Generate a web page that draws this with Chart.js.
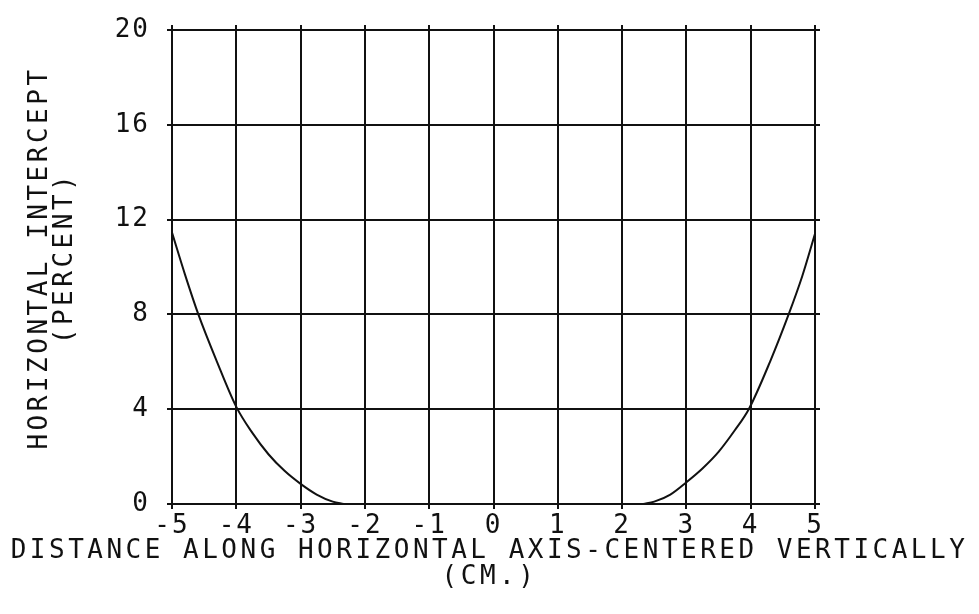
<!DOCTYPE html>
<html><head><meta charset="utf-8">
<script src="https://cdn.jsdelivr.net/npm/chart.js@4/dist/chart.umd.min.js"></script>
<style>html,body{margin:0;padding:0;background:#fff}#wrap{width:979px;height:614px}</style>
</head><body><div id="wrap"><canvas id="c" width="979" height="614"></canvas></div>
<script>
// Data
const leftX  = [-5, -4.8, -4.59, -4.3, -4, -3.75, -3.5, -3.25, -3, -2.75, -2.5, -2.33];
const leftY  = [11.45, 9.7, 8.0, 6.0, 4.1, 3.0, 2.1, 1.4, 0.85, 0.4, 0.1, 0];
const rightX = [2.33, 2.5, 2.75, 3, 3.25, 3.5, 3.75, 3.97, 4.3, 4.59, 4.8, 5];
const rightY = [0, 0.1, 0.4, 0.92, 1.5, 2.2, 3.1, 4.0, 6.0, 8.0, 9.6, 11.4];
const xRange = [-5, 5];
const yRange = [0, 20];
const xStep = 1;
const yStep = 4;
const xTitle = ['DISTANCE ALONG HORIZONTAL AXIS-CENTERED VERTICALLY', '(CM.)'];
const yTitle = ['HORIZONTAL INTERCEPT', '(PERCENT)'];

const toPts = (xs, ys) => xs.map((x, i) => ({x: x, y: ys[i]}));

const FONT = '"DejaVu Sans Mono", "Liberation Mono", monospace';
const INK = '#111';

// wrap a draw method so its text uses plotter-like letter spacing (and optional nudge)
function spaced(obj, method, spacing, dy) {
  if (!obj || obj['_sp_' + method]) return;
  obj['_sp_' + method] = true;
  const orig = obj[method].bind(obj);
  obj[method] = function () {
    const ctx = this.ctx;
    ctx.save();
    ctx.letterSpacing = spacing;
    if (dy) ctx.translate(0, dy);
    orig.apply(null, arguments);
    ctx.restore();
  };
}

const spacingPlugin = {
  id: 'spacing',
  beforeUpdate(c) { c.ctx.letterSpacing = '2px'; },
  beforeDraw(c) { c.ctx.letterSpacing = '2px'; },
  afterLayout(c) {
    spaced(c.titleBlock, 'draw', '3.5px', 0);
    spaced(c.scales.y, 'drawTitle', '3.5px', -9);
  }
};

const gridCommon = { color: INK, lineWidth: 2, tickLength: 5, tickColor: INK, tickWidth: 2 };

new Chart(document.getElementById('c'), {
  type: 'scatter',
  data: {
    datasets: [
      { data: toPts(leftX, leftY), showLine: true, borderColor: INK, borderWidth: 2, pointRadius: 0, cubicInterpolationMode: 'monotone', fill: false },
      { data: toPts(rightX, rightY), showLine: true, borderColor: INK, borderWidth: 2, pointRadius: 0, cubicInterpolationMode: 'monotone', fill: false }
    ]
  },
  options: {
    responsive: false,
    animation: false,
    devicePixelRatio: 1,
    layout: { padding: 0 },
    plugins: {
      legend: { display: false },
      tooltip: { enabled: false },
      title: {
        display: true, position: 'bottom', text: xTitle, color: INK,
        padding: { top: 0, bottom: 24 },
        font: { family: FONT, size: 26, weight: 'normal', lineHeight: 1 }
      }
    },
    scales: {
      x: {
        type: 'linear', position: 'bottom', min: xRange[0], max: xRange[1],
        afterFit(s) { s.height = 34; },
        grid: gridCommon,
        border: { color: INK, width: 2 },
        ticks: { stepSize: xStep, color: INK, padding: 4, maxRotation: 0, font: { family: FONT, size: 26, lineHeight: 1 } }
      },
      y: {
        type: 'linear', position: 'left', min: yRange[0], max: yRange[1],
        afterFit(s) { s.width = 172; },
        grid: gridCommon,
        border: { color: INK, width: 2 },
        ticks: { stepSize: yStep, color: INK, padding: 17, font: { family: FONT, size: 26, lineHeight: 1 } },
        title: { display: true, text: yTitle, color: INK, padding: { top: 28, bottom: 0 }, font: { family: FONT, size: 26, lineHeight: 0.96 } }
      },
      x2: {
        type: 'linear', position: 'top', min: xRange[0], max: xRange[1],
        afterFit(s) { s.height = 25; },
        grid: Object.assign({}, gridCommon, { drawOnChartArea: false }),
        border: { color: INK, width: 2 },
        ticks: { stepSize: xStep, display: false }
      },
      y2: {
        type: 'linear', position: 'right', min: yRange[0], max: yRange[1],
        afterFit(s) { s.width = 164; },
        grid: Object.assign({}, gridCommon, { drawOnChartArea: false }),
        border: { color: INK, width: 2 },
        ticks: { stepSize: yStep, display: false }
      }
    }
  },
  plugins: [spacingPlugin]
});
</script>
</body></html>
